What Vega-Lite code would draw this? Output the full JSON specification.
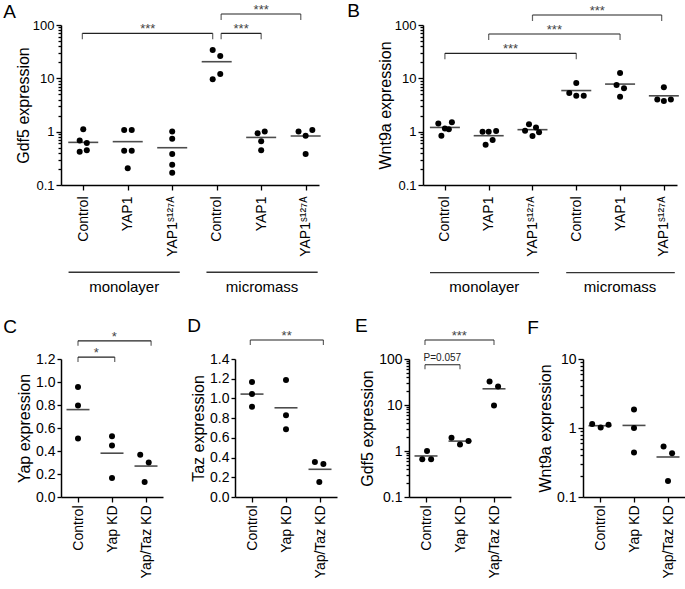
{
  "$schema": "https://vega.github.io/schema/vega-lite/v6.json",
  "background": "white",
  "padding": {"left": 3, "top": 1, "right": 0, "bottom": 0},
  "config": {
    "view": {"stroke": null},
    "font": "Liberation Sans",
    "axis": {"domainColor": "#000", "domainWidth": 1.5, "tickColor": "#000", "tickWidth": 1.3, "labelColor": "#000", "titleColor": "#000", "labelFont": "Liberation Sans", "titleFont": "Liberation Sans", "titleFontWeight": "normal", "grid": false, "labelOverlap": false},
    "text": {"font": "Liberation Sans"}
  },
  "datasets": {
    "A_pts": [
      {"x": 1.0, "v": 1.107}, {"x": 0.92, "v": 0.68}, {"x": 1.08, "v": 0.61}, {"x": 1.08, "v": 0.45}, {"x": 0.92, "v": 0.42},
      {"x": 1.92, "v": 1.07}, {"x": 2.09, "v": 1.07}, {"x": 1.92, "v": 0.44}, {"x": 2.09, "v": 0.44}, {"x": 2.0, "v": 0.205},
      {"x": 3.0, "v": 1.01}, {"x": 3.0, "v": 0.74}, {"x": 3.0, "v": 0.38}, {"x": 3.0, "v": 0.24}, {"x": 3.0, "v": 0.17},
      {"x": 3.91, "v": 34}, {"x": 4.08, "v": 26.2}, {"x": 4.08, "v": 12.1}, {"x": 3.91, "v": 9.6},
      {"x": 4.92, "v": 0.93}, {"x": 5.08, "v": 1.01}, {"x": 5.0, "v": 0.66}, {"x": 5.0, "v": 0.45},
      {"x": 5.84, "v": 1.01}, {"x": 6.15, "v": 1.07}, {"x": 6.0, "v": 0.84}, {"x": 6.0, "v": 0.38}
    ],
    "A_med": [{"x": 1, "v": 0.63}, {"x": 2, "v": 0.65}, {"x": 3, "v": 0.5}, {"x": 4, "v": 20.5}, {"x": 5, "v": 0.78}, {"x": 6, "v": 0.83}],
    "A_br": [
      {"x1": 0.98, "x2": 3.91, "xm": 2.45, "y": 69.8, "lab": "***"},
      {"x1": 4.1, "x2": 5.0, "xm": 4.55, "y": 69.8, "lab": "***"},
      {"x1": 4.1, "x2": 5.89, "xm": 5.0, "y": 160.7, "lab": "***"}
    ],
    "A_grp": [
      {"g": "monolayer", "x1": 0.67, "x2": 3.17, "xm": 1.92},
      {"g": "micromass", "x1": 3.77, "x2": 6.27, "xm": 5.02}
    ],
    "B_pts": [
      {"x": 0.85, "v": 1.43}, {"x": 1.16, "v": 1.5}, {"x": 1.0, "v": 1.15}, {"x": 1.09, "v": 1.11}, {"x": 0.92, "v": 0.84},
      {"x": 1.86, "v": 1.0}, {"x": 2.0, "v": 1.0}, {"x": 2.17, "v": 1.03}, {"x": 2.09, "v": 0.7}, {"x": 1.93, "v": 0.57},
      {"x": 2.92, "v": 1.37}, {"x": 3.08, "v": 1.2}, {"x": 2.83, "v": 1.04}, {"x": 3.15, "v": 0.97}, {"x": 3.0, "v": 0.83},
      {"x": 4.0, "v": 8.2}, {"x": 3.84, "v": 5.3}, {"x": 4.0, "v": 4.7}, {"x": 4.17, "v": 4.7},
      {"x": 5.0, "v": 12.6}, {"x": 4.92, "v": 7.5}, {"x": 5.09, "v": 6.5}, {"x": 5.0, "v": 4.5},
      {"x": 6.0, "v": 6.8}, {"x": 5.85, "v": 4.0}, {"x": 6.0, "v": 3.76}, {"x": 6.16, "v": 4.0}
    ],
    "B_med": [{"x": 1, "v": 1.2}, {"x": 2, "v": 0.84}, {"x": 3, "v": 1.09}, {"x": 4, "v": 5.9}, {"x": 5, "v": 7.8}, {"x": 6, "v": 4.7}],
    "B_br": [
      {"x1": 1.0, "x2": 4.0, "xm": 2.5, "y": 29.4, "lab": "***"},
      {"x1": 2.0, "x2": 5.0, "xm": 3.5, "y": 67.8, "lab": "***"},
      {"x1": 3.0, "x2": 5.95, "xm": 4.48, "y": 154, "lab": "***"}
    ],
    "B_grp": [
      {"g": "monolayer", "x1": 0.66, "x2": 3.15, "xm": 1.9},
      {"g": "micromass", "x1": 3.77, "x2": 6.25, "xm": 5.0}
    ],
    "C_pts": [
      {"x": 1, "v": 0.957}, {"x": 1, "v": 0.795}, {"x": 1, "v": 0.509},
      {"x": 2, "v": 0.529}, {"x": 2, "v": 0.448}, {"x": 2, "v": 0.165},
      {"x": 2.83, "v": 0.367}, {"x": 3.08, "v": 0.3}, {"x": 2.96, "v": 0.13}
    ],
    "C_med": [{"x": 1, "v": 0.76}, {"x": 2, "v": 0.381}, {"x": 3, "v": 0.269}],
    "C_br": [
      {"x1": 1.0, "x2": 2.08, "xm": 1.54, "y": 1.217, "lab": "*"},
      {"x1": 1.0, "x2": 3.15, "xm": 2.07, "y": 1.358, "lab": "*"}
    ],
    "D_pts": [
      {"x": 1, "v": 1.166}, {"x": 1, "v": 1.044}, {"x": 1, "v": 0.915},
      {"x": 2, "v": 1.186}, {"x": 2, "v": 0.83}, {"x": 2, "v": 0.688},
      {"x": 2.85, "v": 0.356}, {"x": 3.1, "v": 0.336}, {"x": 2.98, "v": 0.153}
    ],
    "D_med": [{"x": 1, "v": 1.044}, {"x": 2, "v": 0.905}, {"x": 3, "v": 0.281}],
    "D_br": [{"x1": 0.95, "x2": 3.1, "xm": 2.02, "y": 1.593, "lab": "**"}],
    "E_pts": [
      {"x": 1.03, "v": 1.0}, {"x": 0.89, "v": 0.66}, {"x": 1.15, "v": 0.66},
      {"x": 1.75, "v": 1.93}, {"x": 2.0, "v": 1.38}, {"x": 2.25, "v": 1.64},
      {"x": 2.87, "v": 32.6}, {"x": 3.12, "v": 25.4}, {"x": 3.0, "v": 9.8}
    ],
    "E_med": [{"x": 1, "v": 0.78}, {"x": 2, "v": 1.64}, {"x": 3, "v": 22.5}],
    "E_br": [
      {"x1": 0.97, "x2": 3.0, "xm": 1.98, "y": 259, "lab": "***"}
    ],
    "E_p": [
      {"x1": 0.97, "x2": 2.0, "xm": 1.48, "y": 75, "lab": "P=0.057"}
    ],
    "F_pts": [
      {"x": 0.77, "v": 1.14}, {"x": 1.02, "v": 1.02}, {"x": 1.25, "v": 1.11},
      {"x": 2, "v": 1.85}, {"x": 2, "v": 1.0}, {"x": 2, "v": 0.44},
      {"x": 2.87, "v": 0.54}, {"x": 3.12, "v": 0.43}, {"x": 3.0, "v": 0.17}
    ],
    "F_med": [{"x": 1, "v": 1.08}, {"x": 2, "v": 1.09}, {"x": 3, "v": 0.38}]
  },
  "vconcat": [
    {
      "hconcat": [
        {
          "width": 258, "height": 160,
          "layer": [
            {"data": {"name": "A_pts"}, "mark": {"type": "circle", "size": 36, "opacity": 1, "color": "#000"},
             "encoding": {
               "x": {"field": "x", "type": "quantitative", "scale": {"domain": [0.5, 6.3], "nice": false, "zero": false},
                     "axis": {"title": null, "values": [1, 2, 3, 4, 5, 6], "tickCount": 50, "labelExpr": "['Control','YAP1','YAP1ˢ¹²⁷ᴬ','Control','YAP1','YAP1ˢ¹²⁷ᴬ'][datum.value-1]", "labelAngle": -90, "labelAlign": "right", "labelBaseline": "middle", "labelFontSize": 14, "labelPadding": 6, "tickSize": 5}},
               "y": {"field": "v", "type": "quantitative", "scale": {"type": "log", "domain": [0.1, 100], "nice": false},
                     "axis": {"title": "Gdf5 expression", "titleFontSize": 16, "titlePadding": 1, "labelFontSize": 13, "labelPadding": 2,
                              "values": [0.1,0.2,0.3,0.4,0.5,0.6,0.7,0.8,0.9,1,2,3,4,5,6,7,8,9,10,20,30,40,50,60,70,80,90,100], "tickCount": 100,
                              "labelExpr": "datum.value == 0.1 ? '0.1' : datum.value == 1 ? '1' : datum.value == 10 ? '10' : datum.value == 100 ? '100' : ''",
                              "tickSize": {"condition": {"test": "datum.value == 0.1 || datum.value == 1 || datum.value == 10 || datum.value == 100", "value": 5}, "value": 3}}}
             }},
            {"data": {"name": "A_med"}, "mark": {"type": "tick", "orient": "horizontal", "size": 30, "thickness": 1.6, "color": "#000"},
             "encoding": {"x": {"field": "x", "type": "quantitative"}, "y": {"field": "v", "type": "quantitative"}}},
            {"data": {"name": "A_br"}, "mark": {"type": "rule", "strokeWidth": 1.2, "color": "#222"},
             "encoding": {"x": {"field": "x1", "type": "quantitative"}, "x2": {"field": "x2"}, "y": {"field": "y", "type": "quantitative"}}},
            {"data": {"name": "A_br"}, "mark": {"type": "tick", "orient": "vertical", "size": 6, "thickness": 1.2, "yOffset": 3, "color": "#222"},
             "encoding": {"x": {"field": "x1", "type": "quantitative"}, "y": {"field": "y", "type": "quantitative"}}},
            {"data": {"name": "A_br"}, "mark": {"type": "tick", "orient": "vertical", "size": 6, "thickness": 1.2, "yOffset": 3, "color": "#222"},
             "encoding": {"x": {"field": "x2", "type": "quantitative"}, "y": {"field": "y", "type": "quantitative"}}},
            {"data": {"name": "A_br"}, "mark": {"type": "text", "fontSize": 13, "baseline": "alphabetic", "dy": 0, "color": "#444"},
             "encoding": {"x": {"field": "xm", "type": "quantitative"}, "y": {"field": "y", "type": "quantitative"}, "text": {"field": "lab"}}},
            {"data": {"name": "A_grp"}, "mark": {"type": "rule", "strokeWidth": 1.3, "color": "#333"},
             "encoding": {"x": {"field": "x1", "type": "quantitative"}, "x2": {"field": "x2"}, "y": {"datum": 0.00231, "type": "quantitative"}}},
            {"data": {"name": "A_grp"}, "mark": {"type": "text", "fontSize": 15, "baseline": "middle", "color": "#000"},
             "encoding": {"x": {"field": "xm", "type": "quantitative"}, "y": {"datum": 0.00124, "type": "quantitative"}, "text": {"field": "g"}}},
            {"data": {"values": [{"p": "A"}]}, "mark": {"type": "text", "fontSize": 19, "baseline": "middle", "align": "center", "color": "#000"},
             "encoding": {"x": {"datum": -0.655, "type": "quantitative"}, "y": {"datum": 177, "type": "quantitative"}, "text": {"field": "p"}}}
          ]
        },
        {
          "width": 254, "height": 160,
          "layer": [
            {"data": {"name": "B_pts"}, "mark": {"type": "circle", "size": 36, "opacity": 1, "color": "#000"},
             "encoding": {
               "x": {"field": "x", "type": "quantitative", "scale": {"domain": [0.5, 6.3], "nice": false, "zero": false},
                     "axis": {"title": null, "values": [1, 2, 3, 4, 5, 6], "tickCount": 50, "labelExpr": "['Control','YAP1','YAP1ˢ¹²⁷ᴬ','Control','YAP1','YAP1ˢ¹²⁷ᴬ'][datum.value-1]", "labelAngle": -90, "labelAlign": "right", "labelBaseline": "middle", "labelFontSize": 14, "labelPadding": 6, "tickSize": 5}},
               "y": {"field": "v", "type": "quantitative", "scale": {"type": "log", "domain": [0.1, 100], "nice": false},
                     "axis": {"title": "Wnt9a expression", "titleFontSize": 16, "titlePadding": 1, "labelFontSize": 13, "labelPadding": 2,
                              "values": [0.1,0.2,0.3,0.4,0.5,0.6,0.7,0.8,0.9,1,2,3,4,5,6,7,8,9,10,20,30,40,50,60,70,80,90,100], "tickCount": 100,
                              "labelExpr": "datum.value == 0.1 ? '0.1' : datum.value == 1 ? '1' : datum.value == 10 ? '10' : datum.value == 100 ? '100' : ''",
                              "tickSize": {"condition": {"test": "datum.value == 0.1 || datum.value == 1 || datum.value == 10 || datum.value == 100", "value": 5}, "value": 3}}}
             }},
            {"data": {"name": "B_med"}, "mark": {"type": "tick", "orient": "horizontal", "size": 30, "thickness": 1.6, "color": "#000"},
             "encoding": {"x": {"field": "x", "type": "quantitative"}, "y": {"field": "v", "type": "quantitative"}}},
            {"data": {"name": "B_br"}, "mark": {"type": "rule", "strokeWidth": 1.2, "color": "#222"},
             "encoding": {"x": {"field": "x1", "type": "quantitative"}, "x2": {"field": "x2"}, "y": {"field": "y", "type": "quantitative"}}},
            {"data": {"name": "B_br"}, "mark": {"type": "tick", "orient": "vertical", "size": 6, "thickness": 1.2, "yOffset": 3, "color": "#222"},
             "encoding": {"x": {"field": "x1", "type": "quantitative"}, "y": {"field": "y", "type": "quantitative"}}},
            {"data": {"name": "B_br"}, "mark": {"type": "tick", "orient": "vertical", "size": 6, "thickness": 1.2, "yOffset": 3, "color": "#222"},
             "encoding": {"x": {"field": "x2", "type": "quantitative"}, "y": {"field": "y", "type": "quantitative"}}},
            {"data": {"name": "B_br"}, "mark": {"type": "text", "fontSize": 13, "baseline": "alphabetic", "dy": 0, "color": "#444"},
             "encoding": {"x": {"field": "xm", "type": "quantitative"}, "y": {"field": "y", "type": "quantitative"}, "text": {"field": "lab"}}},
            {"data": {"name": "B_grp"}, "mark": {"type": "rule", "strokeWidth": 1.3, "color": "#333"},
             "encoding": {"x": {"field": "x1", "type": "quantitative"}, "x2": {"field": "x2"}, "y": {"datum": 0.00228, "type": "quantitative"}}},
            {"data": {"name": "B_grp"}, "mark": {"type": "text", "fontSize": 15, "baseline": "middle", "color": "#000"},
             "encoding": {"x": {"field": "xm", "type": "quantitative"}, "y": {"datum": 0.00122, "type": "quantitative"}, "text": {"field": "g"}}},
            {"data": {"values": [{"p": "B"}]}, "mark": {"type": "text", "fontSize": 19, "baseline": "middle", "align": "center", "color": "#000"},
             "encoding": {"x": {"datum": -1.086, "type": "quantitative"}, "y": {"datum": 185, "type": "quantitative"}, "text": {"field": "p"}}}
          ]
        }
      ],
      "spacing": 104,
      "bounds": "flush"
    },
    {
      "hconcat": [
        {
          "width": 102, "height": 138,
          "layer": [
            {"data": {"name": "C_pts"}, "mark": {"type": "circle", "size": 36, "opacity": 1, "color": "#000"},
             "encoding": {
               "x": {"field": "x", "type": "quantitative", "scale": {"domain": [0.5, 3.5], "nice": false, "zero": false},
                     "axis": {"title": null, "values": [1, 2, 3], "tickCount": 50, "labelExpr": "['Control','Yap KD','Yap/Taz KD'][datum.value-1]", "labelAngle": -90, "labelAlign": "right", "labelBaseline": "middle", "labelFontSize": 14, "labelPadding": 3, "tickSize": 5}},
               "y": {"field": "v", "type": "quantitative", "scale": {"domain": [0, 1.2], "nice": false, "zero": true},
                     "axis": {"title": "Yap expression", "titleFontSize": 16, "titlePadding": 3, "labelFontSize": 14, "labelPadding": 2, "labelFlush": false,
                              "values": [0, 0.2, 0.4, 0.6, 0.8, 1.0, 1.2], "tickCount": 50, "format": ".1f", "tickSize": 4}}
             }},
            {"data": {"name": "C_med"}, "mark": {"type": "tick", "orient": "horizontal", "size": 23, "thickness": 1.6, "color": "#000"},
             "encoding": {"x": {"field": "x", "type": "quantitative"}, "y": {"field": "v", "type": "quantitative"}}},
            {"data": {"name": "C_br"}, "mark": {"type": "rule", "strokeWidth": 1.2, "color": "#222"},
             "encoding": {"x": {"field": "x1", "type": "quantitative"}, "x2": {"field": "x2"}, "y": {"field": "y", "type": "quantitative"}}},
            {"data": {"name": "C_br"}, "mark": {"type": "tick", "orient": "vertical", "size": 5, "thickness": 1.2, "yOffset": 2.5, "color": "#222"},
             "encoding": {"x": {"field": "x1", "type": "quantitative"}, "y": {"field": "y", "type": "quantitative"}}},
            {"data": {"name": "C_br"}, "mark": {"type": "tick", "orient": "vertical", "size": 5, "thickness": 1.2, "yOffset": 2.5, "color": "#222"},
             "encoding": {"x": {"field": "x2", "type": "quantitative"}, "y": {"field": "y", "type": "quantitative"}}},
            {"data": {"name": "C_br"}, "mark": {"type": "text", "fontSize": 13, "baseline": "alphabetic", "dy": 0, "color": "#444"},
             "encoding": {"x": {"field": "xm", "type": "quantitative"}, "y": {"field": "y", "type": "quantitative"}, "text": {"field": "lab"}}},
            {"data": {"values": [{"p": "C"}]}, "mark": {"type": "text", "fontSize": 19, "baseline": "middle", "align": "center", "color": "#000"},
             "encoding": {"x": {"datum": -1.0, "type": "quantitative"}, "y": {"datum": 1.476, "type": "quantitative"}, "text": {"field": "p"}}}
          ]
        },
        {
          "width": 102, "height": 138,
          "layer": [
            {"data": {"name": "D_pts"}, "mark": {"type": "circle", "size": 36, "opacity": 1, "color": "#000"},
             "encoding": {
               "x": {"field": "x", "type": "quantitative", "scale": {"domain": [0.5, 3.5], "nice": false, "zero": false},
                     "axis": {"title": null, "values": [1, 2, 3], "tickCount": 50, "labelExpr": "['Control','Yap KD','Yap/Taz KD'][datum.value-1]", "labelAngle": -90, "labelAlign": "right", "labelBaseline": "middle", "labelFontSize": 14, "labelPadding": 3, "tickSize": 5}},
               "y": {"field": "v", "type": "quantitative", "scale": {"domain": [0, 1.4], "nice": false, "zero": true},
                     "axis": {"title": "Taz expression", "titleFontSize": 16, "titlePadding": 3, "labelFontSize": 14, "labelPadding": 2, "labelFlush": false,
                              "values": [0, 0.2, 0.4, 0.6, 0.8, 1.0, 1.2, 1.4], "tickCount": 50, "format": ".1f", "tickSize": 4}}
             }},
            {"data": {"name": "D_med"}, "mark": {"type": "tick", "orient": "horizontal", "size": 23, "thickness": 1.6, "color": "#000"},
             "encoding": {"x": {"field": "x", "type": "quantitative"}, "y": {"field": "v", "type": "quantitative"}}},
            {"data": {"name": "D_br"}, "mark": {"type": "rule", "strokeWidth": 1.2, "color": "#222"},
             "encoding": {"x": {"field": "x1", "type": "quantitative"}, "x2": {"field": "x2"}, "y": {"field": "y", "type": "quantitative"}}},
            {"data": {"name": "D_br"}, "mark": {"type": "tick", "orient": "vertical", "size": 5, "thickness": 1.2, "yOffset": 2.5, "color": "#222"},
             "encoding": {"x": {"field": "x1", "type": "quantitative"}, "y": {"field": "y", "type": "quantitative"}}},
            {"data": {"name": "D_br"}, "mark": {"type": "tick", "orient": "vertical", "size": 5, "thickness": 1.2, "yOffset": 2.5, "color": "#222"},
             "encoding": {"x": {"field": "x2", "type": "quantitative"}, "y": {"field": "y", "type": "quantitative"}}},
            {"data": {"name": "D_br"}, "mark": {"type": "text", "fontSize": 13, "baseline": "alphabetic", "dy": 0, "color": "#444"},
             "encoding": {"x": {"field": "xm", "type": "quantitative"}, "y": {"field": "y", "type": "quantitative"}, "text": {"field": "lab"}}},
            {"data": {"values": [{"p": "D"}]}, "mark": {"type": "text", "fontSize": 19, "baseline": "middle", "align": "center", "color": "#000"},
             "encoding": {"x": {"datum": -0.7, "type": "quantitative"}, "y": {"datum": 1.73, "type": "quantitative"}, "text": {"field": "p"}}}
          ]
        },
        {
          "width": 102, "height": 138,
          "layer": [
            {"data": {"name": "E_pts"}, "mark": {"type": "circle", "size": 36, "opacity": 1, "color": "#000"},
             "encoding": {
               "x": {"field": "x", "type": "quantitative", "scale": {"domain": [0.5, 3.5], "nice": false, "zero": false},
                     "axis": {"title": null, "values": [1, 2, 3], "tickCount": 50, "labelExpr": "['Control','Yap KD','Yap/Taz KD'][datum.value-1]", "labelAngle": -90, "labelAlign": "right", "labelBaseline": "middle", "labelFontSize": 14, "labelPadding": 3, "tickSize": 5}},
               "y": {"field": "v", "type": "quantitative", "scale": {"type": "log", "domain": [0.1, 100], "nice": false},
                     "axis": {"title": "Gdf5 expression", "titleFontSize": 16, "titlePadding": 3, "labelFontSize": 14, "labelPadding": 2,
                              "values": [0.1,0.2,0.3,0.4,0.5,0.6,0.7,0.8,0.9,1,2,3,4,5,6,7,8,9,10,20,30,40,50,60,70,80,90,100], "tickCount": 100,
                              "labelExpr": "datum.value == 0.1 ? '0.1' : datum.value == 1 ? '1' : datum.value == 10 ? '10' : datum.value == 100 ? '100' : ''",
                              "tickSize": {"condition": {"test": "datum.value == 0.1 || datum.value == 1 || datum.value == 10 || datum.value == 100", "value": 5}, "value": 3}}}
             }},
            {"data": {"name": "E_med"}, "mark": {"type": "tick", "orient": "horizontal", "size": 23, "thickness": 1.6, "color": "#000"},
             "encoding": {"x": {"field": "x", "type": "quantitative"}, "y": {"field": "v", "type": "quantitative"}}},
            {"data": {"name": "E_br"}, "mark": {"type": "rule", "strokeWidth": 1.2, "color": "#222"},
             "encoding": {"x": {"field": "x1", "type": "quantitative"}, "x2": {"field": "x2"}, "y": {"field": "y", "type": "quantitative"}}},
            {"data": {"name": "E_br"}, "mark": {"type": "tick", "orient": "vertical", "size": 5, "thickness": 1.2, "yOffset": 2.5, "color": "#222"},
             "encoding": {"x": {"field": "x1", "type": "quantitative"}, "y": {"field": "y", "type": "quantitative"}}},
            {"data": {"name": "E_br"}, "mark": {"type": "tick", "orient": "vertical", "size": 5, "thickness": 1.2, "yOffset": 2.5, "color": "#222"},
             "encoding": {"x": {"field": "x2", "type": "quantitative"}, "y": {"field": "y", "type": "quantitative"}}},
            {"data": {"name": "E_br"}, "mark": {"type": "text", "fontSize": 13, "baseline": "alphabetic", "dy": 0, "color": "#444"},
             "encoding": {"x": {"field": "xm", "type": "quantitative"}, "y": {"field": "y", "type": "quantitative"}, "text": {"field": "lab"}}},
            {"data": {"name": "E_p"}, "mark": {"type": "rule", "strokeWidth": 1.2, "color": "#222"},
             "encoding": {"x": {"field": "x1", "type": "quantitative"}, "x2": {"field": "x2"}, "y": {"field": "y", "type": "quantitative"}}},
            {"data": {"name": "E_p"}, "mark": {"type": "tick", "orient": "vertical", "size": 4.5, "thickness": 1.2, "yOffset": 2.25, "color": "#222"},
             "encoding": {"x": {"field": "x1", "type": "quantitative"}, "y": {"field": "y", "type": "quantitative"}}},
            {"data": {"name": "E_p"}, "mark": {"type": "tick", "orient": "vertical", "size": 4.5, "thickness": 1.2, "yOffset": 2.25, "color": "#222"},
             "encoding": {"x": {"field": "x2", "type": "quantitative"}, "y": {"field": "y", "type": "quantitative"}}},
            {"data": {"name": "E_p"}, "mark": {"type": "text", "fontSize": 10, "baseline": "bottom", "dy": -1.5, "color": "#222"},
             "encoding": {"x": {"field": "xm", "type": "quantitative"}, "y": {"field": "y", "type": "quantitative"}, "text": {"field": "lab"}}},
            {"data": {"values": [{"p": "E"}]}, "mark": {"type": "text", "fontSize": 19, "baseline": "middle", "align": "center", "color": "#000"},
             "encoding": {"x": {"datum": -0.9, "type": "quantitative"}, "y": {"datum": 524, "type": "quantitative"}, "text": {"field": "p"}}}
          ]
        },
        {
          "width": 102, "height": 138,
          "layer": [
            {"data": {"name": "F_pts"}, "mark": {"type": "circle", "size": 36, "opacity": 1, "color": "#000"},
             "encoding": {
               "x": {"field": "x", "type": "quantitative", "scale": {"domain": [0.5, 3.5], "nice": false, "zero": false},
                     "axis": {"title": null, "values": [1, 2, 3], "tickCount": 50, "labelExpr": "['Control','Yap KD','Yap/Taz KD'][datum.value-1]", "labelAngle": -90, "labelAlign": "right", "labelBaseline": "middle", "labelFontSize": 14, "labelPadding": 3, "tickSize": 5}},
               "y": {"field": "v", "type": "quantitative", "scale": {"type": "log", "domain": [0.1, 10], "nice": false},
                     "axis": {"title": "Wnt9a expression", "titleFontSize": 16, "titlePadding": 3, "labelFontSize": 14, "labelPadding": 2,
                              "values": [0.1,0.2,0.3,0.4,0.5,0.6,0.7,0.8,0.9,1,2,3,4,5,6,7,8,9,10], "tickCount": 100,
                              "labelExpr": "datum.value == 0.1 ? '0.1' : datum.value == 1 ? '1' : datum.value == 10 ? '10' : ''",
                              "tickSize": {"condition": {"test": "datum.value == 0.1 || datum.value == 1 || datum.value == 10", "value": 5}, "value": 3}}}
             }},
            {"data": {"name": "F_med"}, "mark": {"type": "tick", "orient": "horizontal", "size": 23, "thickness": 1.6, "color": "#000"},
             "encoding": {"x": {"field": "x", "type": "quantitative"}, "y": {"field": "v", "type": "quantitative"}}},
            {"data": {"values": [{"p": "F"}]}, "mark": {"type": "text", "fontSize": 19, "baseline": "middle", "align": "center", "color": "#000"},
             "encoding": {"x": {"datum": -0.97, "type": "quantitative"}, "y": {"datum": 28.1, "type": "quantitative"}, "text": {"field": "p"}}}
          ]
        }
      ],
      "spacing": 72,
      "bounds": "flush"
    }
  ],
  "spacing": 20
}
